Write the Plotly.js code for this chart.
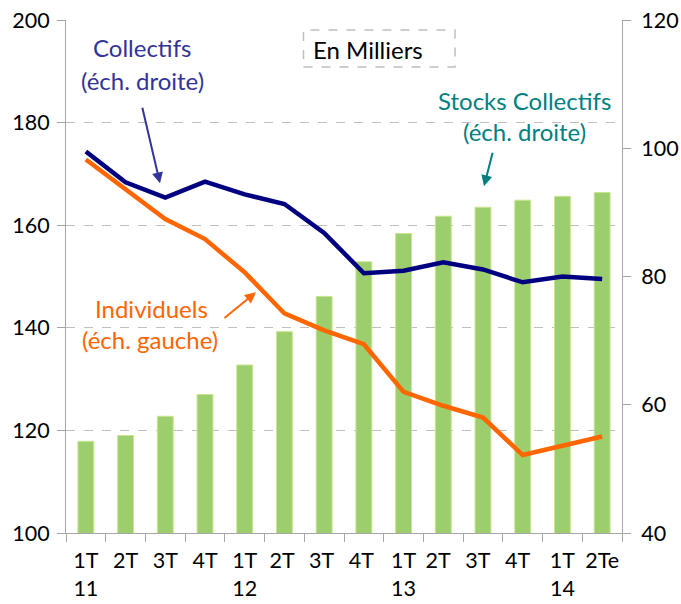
<!DOCTYPE html>
<html>
<head>
<meta charset="utf-8">
<script src="https://cdn.plot.ly/plotly-3.0.1.min.js"></script>
<style>html,body{margin:0;padding:0;background:#fff;}#chart{width:681px;height:604px;}</style>
</head>
<body>
<div id="chart"></div>
<script>
// Categories (quarters)
const categories = ["1T<br>11","2T","3T","4T","1T<br>12","2T ","3T ","4T ","1T<br>13","2T  ","3T  ","4T  ","1T<br>14","2Te"];
// Stocks Collectifs (right axis, thousands)
const stocksCollectifs = [54.3, 55.2, 58.2, 61.6, 66.2, 71.4, 76.9, 82.3, 86.7, 89.4, 90.8, 91.9, 92.5, 93.1];
// Collectifs (right axis)
const collectifs = [99.5, 94.7, 92.3, 94.8, 92.8, 91.3, 86.8, 80.5, 80.9, 82.2, 81.1, 79.1, 80.0, 79.6];
// Individuels (left axis)
const individuels = [172.8, 167.1, 161.2, 157.3, 150.8, 142.8, 139.5, 136.8, 127.5, 124.8, 122.5, 115.2, 116.9, 118.8];

const FONT = "Lato, 'Open Sans', sans-serif";
const TICKFONT = {family:FONT, size:21.5, color:"#000"};

const traces = [
  {type:"bar", x:categories, y:stocksCollectifs, yaxis:"y", width:0.4,
   marker:{color:"#9DCE6E", line:{color:"#C9E58F", width:1}}, hoverinfo:"skip"},
  {type:"scatter", mode:"lines", x:categories, y:individuels, yaxis:"y2",
   line:{color:"#FF6600", width:4.5}},
  {type:"scatter", mode:"lines", x:categories, y:collectifs, yaxis:"y3",
   line:{color:"#000080", width:4.5}}
];

function lbl(text, x, y, color){
  return {text:text, xref:"paper", yref:"paper", x:x, y:y, xanchor:"center", yanchor:"middle",
          showarrow:false, font:{family:FONT, size:24, color:color}};
}
function arr(x, y, ax, ay, color){
  return {text:"", xref:"paper", yref:"paper", x:x, y:y, ax:ax, ay:ay, showarrow:true,
          arrowhead:2, arrowsize:1.1, arrowwidth:2, arrowcolor:color};
}
// plot area: x 66..622, y 19.5..533
const px = v => (v-66)/556;
const py = v => (533-v)/513.5;

const layout = {
  width:681, height:604,
  margin:{l:66, r:59, t:19.5, b:71, pad:0},
  paper_bgcolor:"#fff", plot_bgcolor:"#fff",
  showlegend:false,
  bargap:0.6,
  font:{family:FONT, size:20, color:"#000"},
  xaxis:{type:"category", tickson:"boundaries", ticks:"outside", ticklen:8, tickcolor:"#A6A6A6",
         showline:true, linecolor:"#A6A6A6", linewidth:1, showgrid:false, tickangle:0,
         tickfont:TICKFONT, range:[-0.5,13.5], fixedrange:true, ticklabelstandoff:8},
  yaxis:{side:"right", range:[40,120], dtick:20, showgrid:false, zeroline:false,
         showline:true, linecolor:"#A6A6A6", ticks:"outside", ticklen:8, tickcolor:"#A6A6A6",
         tickfont:TICKFONT, ticklabelstandoff:6},
  yaxis2:{overlaying:"y", side:"left", range:[100,200], dtick:20, showgrid:true,
          gridcolor:"#BFBFBF", griddash:"dash", gridwidth:1, zeroline:false,
          showline:true, linecolor:"#A6A6A6", ticks:"outside", ticklen:8, tickcolor:"#A6A6A6",
          tickfont:TICKFONT, ticklabelstandoff:3},
  yaxis3:{overlaying:"y", side:"right", range:[40,120], visible:false},
  shapes:[
    {type:"rect", xref:"paper", yref:"paper", x0:px(303.5), x1:px(455), y0:py(66.5), y1:py(29.5),
     line:{color:"#BFBFBF", width:1.5, dash:"dash"}, fillcolor:"rgba(0,0,0,0)"}
  ],
  annotations:[
    {text:"En Milliers", xref:"paper", yref:"paper", x:px(311), y:py(49), xanchor:"left", yanchor:"middle",
     showarrow:false, font:{family:FONT, size:24, color:"#000"}},
    lbl("Collectifs", px(142), py(47), "#333399"),
    lbl("(éch. droite)", px(142), py(80), "#333399"),
    arr(px(160), py(183), -18, -77, "#333399"),
    lbl("Stocks Collectifs", px(524), py(100), "#008080"),
    lbl("(éch. droite)", px(524), py(131), "#008080"),
    arr(px(484), py(186), 9, -35, "#008080"),
    lbl("Individuels", px(151), py(308), "#FF6600"),
    lbl("(éch. gauche)", px(150), py(339), "#FF6600"),
    arr(px(256), py(292), -33, 27, "#FF6600")
  ]
};

Plotly.newPlot("chart", traces, layout, {displayModeBar:false, staticPlot:true});
</script>
</body>
</html>
